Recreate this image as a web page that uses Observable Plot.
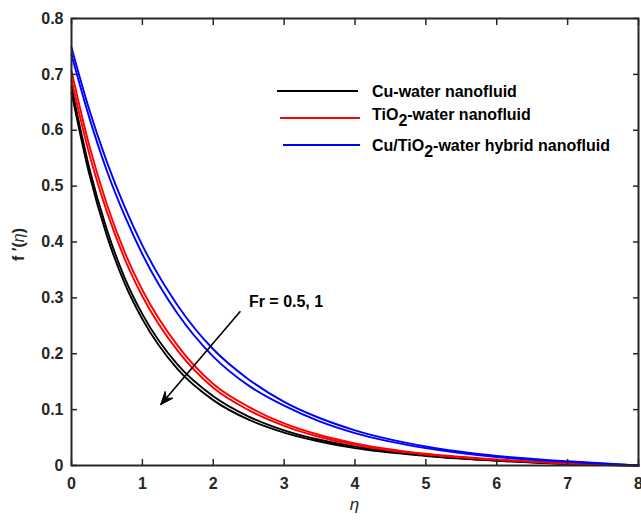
<!DOCTYPE html>
<html>
<head>
<meta charset="utf-8">
<script src="https://cdn.jsdelivr.net/npm/d3@7"></script>
<script src="https://cdn.jsdelivr.net/npm/@observablehq/plot@0.6"></script>
<style>
  html, body { margin: 0; padding: 0; background: #fff; }
  #chart svg { display: block; }
</style>
</head>
<body>
<div id="chart"></div>
<script>
// ---- data ----
const eta      = [0, 0.25, 0.5, 0.75, 1, 1.5, 2, 2.5, 3, 3.5, 4, 5, 6, 7, 8];
const cuFr05   = [0.678, 0.533, 0.422, 0.336, 0.271, 0.180, 0.124, 0.0876, 0.063, 0.046, 0.0338, 0.018, 0.009, 0.003, 0];
const cuFr1    = [0.668, 0.522, 0.411, 0.326, 0.262, 0.172, 0.117, 0.082, 0.059, 0.043, 0.031, 0.017, 0.0085, 0.0028, 0];
const tiFr05   = [0.706, 0.573, 0.467, 0.382, 0.314, 0.214, 0.146, 0.105, 0.0753, 0.0546, 0.0397, 0.021, 0.011, 0.004, 0];
const tiFr1    = [0.690, 0.558, 0.454, 0.370, 0.303, 0.205, 0.139, 0.099, 0.071, 0.051, 0.037, 0.0195, 0.010, 0.0035, 0];
const hyFr05   = [0.748, 0.637, 0.543, 0.463, 0.394, 0.286, 0.208, 0.154, 0.114, 0.085, 0.063, 0.034, 0.017, 0.0075, 0];
const hyFr1    = [0.735, 0.623, 0.527, 0.447, 0.378, 0.271, 0.195, 0.143, 0.107, 0.079, 0.058, 0.031, 0.015, 0.0065, 0];

const seriesNames  = ["Cu-water nanofluid", "TiO2-water nanofluid", "Cu/TiO2-water hybrid nanofluid"];
const seriesColors = ["#000000", "#ff0000", "#0000ff"];
const seriesData   = [[cuFr05, cuFr1], [tiFr05, tiFr1], [hyFr05, hyFr1]];

const xTicks = [0, 1, 2, 3, 4, 5, 6, 7, 8];
const yTicks = [0, 0.1, 0.2, 0.3, 0.4, 0.5, 0.6, 0.7, 0.8];
const yTickLabels = ["0", "0.1", "0.2", "0.3", "0.4", "0.5", "0.6", "0.7", "0.8"];
const xLabel = "η";
const annotationText = "Fr = 0.5, 1";

// ---- layout (pixel / frame-relative constants, not data) ----
const W = 641, H = 522;
const FONT = "'Liberation Sans', Arial, Helvetica, sans-serif";
const AX = "#262626";

const marks = [];
// curves
seriesData.forEach((pair, i) => {
  pair.forEach(vals => {
    const rows = eta.map((e, j) => ({eta: e, f: vals[j]}));
    marks.push(Plot.line(rows, {x: "eta", y: "f", stroke: seriesColors[i], strokeWidth: 1.9, curve: "monotone-x"}));
  });
});

// axes (ticks inward on all sides, MATLAB box style)
const axStyle = {fontSize: 16, fontWeight: "bold", fill: AX, stroke: AX, strokeWidth: 1.5};
marks.push(Plot.axisX({anchor: "bottom", ticks: xTicks, tickSize: -6, tickPadding: 18, tickFormat: d => String(d), label: null, ...axStyle}));
marks.push(Plot.axisX({anchor: "top", ticks: xTicks, tickSize: -6, tickFormat: () => "", label: null, stroke: AX, strokeWidth: 1.5}));
marks.push(Plot.axisY({anchor: "left", ticks: yTicks, tickSize: -6, tickPadding: 14, tickFormat: d => yTickLabels[yTicks.indexOf(d)], label: null, ...axStyle}));
marks.push(Plot.axisY({anchor: "right", ticks: yTicks, tickSize: -6, tickFormat: () => "", label: null, stroke: AX, strokeWidth: 1.5}));
marks.push(Plot.frame({stroke: AX, strokeWidth: 2}));

const plot = Plot.plot({
  width: W,
  height: H,
  marginLeft: 71,
  marginRight: 3,
  marginTop: 18,
  marginBottom: 57,
  x: {domain: [0, 8]},
  y: {domain: [0, 0.8]},
  style: {fontFamily: FONT, background: "#fff", overflow: "visible"},
  marks
});
document.getElementById("chart").appendChild(plot);

// ---- annotations drawn with the plot's own scales ----
const sx = plot.scale("x"), sy = plot.scale("y");
const svg = d3.select(plot);
const g = svg.append("g").attr("font-family", FONT).attr("font-weight", "bold").attr("text-anchor", "start");

// axis labels
g.append("text").attr("x", sx.apply(4)).attr("y", 510).attr("text-anchor", "middle")
  .attr("font-size", 17).attr("font-style", "italic").attr("font-weight", "normal").attr("fill", AX).text(xLabel);
const yl = g.append("text").attr("transform", `translate(24,${sy.apply(0.4) + 3}) rotate(-90)`)
  .attr("text-anchor", "middle").attr("font-size", 16).attr("fill", AX);
yl.append("tspan").text("f ′(");
yl.append("tspan").attr("font-style", "italic").attr("font-weight", "normal").text("η");
yl.append("tspan").text(")");

// legend (no box)
const legendRows = [
  {y: 91, x1: 277, x2: 358, ty: 97},
  {y: 118, x1: 280, x2: 360, ty: 120},
  {y: 145, x1: 283, x2: 360, ty: 151}
];
seriesNames.forEach((name, i) => {
  const r = legendRows[i];
  g.append("line").attr("x1", r.x1).attr("x2", r.x2).attr("y1", r.y).attr("y2", r.y)
    .attr("stroke", seriesColors[i]).attr("stroke-width", 2);
  const t = g.append("text").attr("x", 372).attr("y", r.ty)
    .attr("font-size", 16).attr("fill", "#000").attr("text-anchor", "start");
  const parts = name.split("TiO2");
  if (parts.length === 1) { t.text(name); }
  else {
    t.append("tspan").text(parts[0] + "TiO");
    t.append("tspan").attr("dy", 6).text("2");
    t.append("tspan").attr("dy", -6).text(parts[1]);
  }
});

// Fr arrow + text
const arrowFrom = {x: 2.39, y: 0.275};
const arrowTo = {x: 1.265, y: 0.108};
const ax1 = sx.apply(arrowFrom.x), ay1 = sy.apply(arrowFrom.y);
const ax2 = sx.apply(arrowTo.x), ay2 = sy.apply(arrowTo.y);
g.append("line").attr("x1", ax1).attr("y1", ay1).attr("x2", ax2).attr("y2", ay2)
  .attr("stroke", "#000").attr("stroke-width", 1.6);
const ang = Math.atan2(ay2 - ay1, ax2 - ax1);
const hl = 14, hw = 0.38;
const p1 = [ax2 - hl * Math.cos(ang - hw), ay2 - hl * Math.sin(ang - hw)];
const p2 = [ax2 - hl * Math.cos(ang + hw), ay2 - hl * Math.sin(ang + hw)];
const pm = [ax2 - hl * 0.6 * Math.cos(ang), ay2 - hl * 0.6 * Math.sin(ang)];
g.append("path").attr("d", `M${p1}L${ax2},${ay2}L${p2}L${pm}Z`).attr("fill", "#000").attr("stroke", "#000").attr("stroke-width", 1);
g.append("text").attr("x", sx.apply(2.51)).attr("y", sy.apply(0.294) + 6)
  .attr("font-size", 16).attr("fill", "#000").attr("text-anchor", "start").text(annotationText);
</script>
</body>
</html>
